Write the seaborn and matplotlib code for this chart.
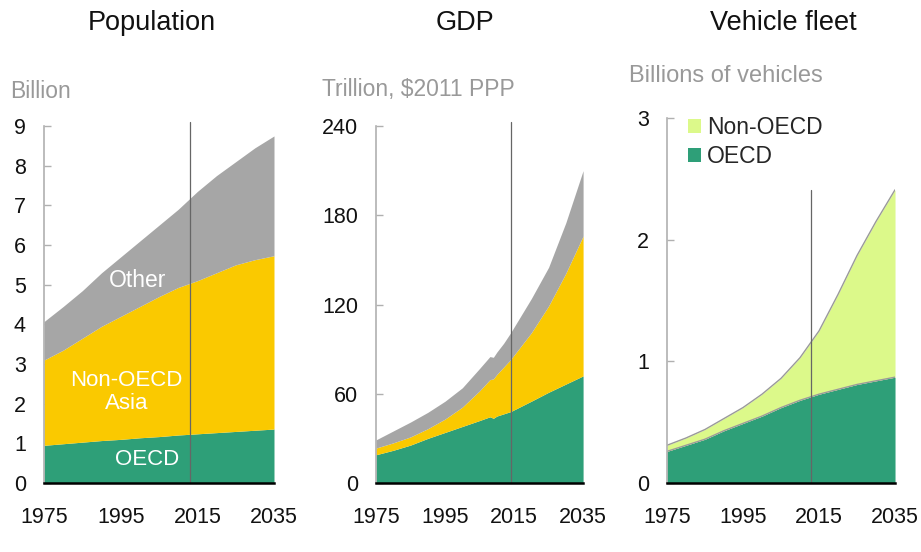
import matplotlib
matplotlib.use('Agg')
import matplotlib.pyplot as plt
from matplotlib.patches import Patch
import seaborn as sns
import numpy as np

# ---- data -----------------------------------------------------------------
pop_years = [1975, 1980, 1985, 1990, 1995, 2000, 2005, 2010, 2015, 2020, 2025, 2030, 2035]
pop_oecd = [0.95, 0.99, 1.03, 1.07, 1.10, 1.14, 1.17, 1.21, 1.24, 1.27, 1.30, 1.33, 1.36]
pop_asia = [2.15, 2.36, 2.62, 2.88, 3.10, 3.31, 3.53, 3.72, 3.86, 4.03, 4.20, 4.30, 4.37]
pop_other = [0.97, 1.10, 1.20, 1.35, 1.50, 1.65, 1.80, 1.97, 2.25, 2.45, 2.60, 2.82, 3.02]

gdp_years = [1975, 1980, 1985, 1990, 1995, 2000, 2005, 2008, 2009, 2010, 2012, 2014, 2020, 2025, 2030, 2035]
gdp_oecd = [19, 22, 25.5, 30, 34, 38, 42, 44.5, 43.5, 45, 46.5, 48, 55, 61, 66.5, 72]
gdp_asia = [4.5, 5, 5.5, 6.5, 9, 13, 20, 25, 26.5, 28, 31.5, 35, 46, 58, 74.5, 94]
gdp_other = [5.5, 8, 10, 11, 12, 13, 15, 15.5, 14.5, 15, 16, 18, 23, 26, 34, 44]

veh_years = [1975, 1980, 1985, 1990, 1995, 2000, 2005, 2010, 2015, 2020, 2025, 2030, 2035]
veh_oecd = [0.26, 0.31, 0.36, 0.43, 0.49, 0.55, 0.62, 0.68, 0.73, 0.77, 0.81, 0.84, 0.87]
veh_non = [0.05, 0.06, 0.08, 0.10, 0.13, 0.18, 0.24, 0.35, 0.52, 0.78, 1.06, 1.31, 1.54]

x_ticks = [1975, 1995, 2015, 2035]

GREEN = '#2e9f78'
YELLOW = '#fac900'
GREY = '#a6a6a6'
LIME = '#dcf98a'

sns.set_theme(style='white')
plt.rcParams['font.family'] = ['Liberation Sans', 'DejaVu Sans']

fig = plt.figure(figsize=(9.21, 5.52), dpi=100)
ax1 = fig.add_axes([0.0478, 0.125, 0.2497, 0.6467])
ax2 = fig.add_axes([0.4083, 0.125, 0.2248, 0.6467])
ax3 = fig.add_axes([0.7242, 0.125, 0.2476, 0.6612])


def stack(ax, years, series, colors):
    base = np.zeros(len(years))
    for vals, c in zip(series, colors):
        top = base + np.array(vals)
        ax.fill_between(years, base, top, color=c, linewidth=0)
        base = top
    return base


def style_axis(ax, ymax, yticks):
    ax.set_xlim(1975, 2035)
    ax.set_ylim(0, ymax)
    ax.set_xticks(x_ticks)
    ax.set_yticks(yticks)
    sns.despine(ax=ax, top=True, right=True)
    ax.spines['left'].set_color('#b0b0b0')
    ax.spines['left'].set_linewidth(1.2)
    ax.spines['bottom'].set_color('black')
    ax.spines['bottom'].set_linewidth(1.8)
    ax.spines['bottom'].set_zorder(5)
    ax.tick_params(axis='y', direction='in', length=5, width=1, color='#b0b0b0',
                   labelsize=15.5, pad=13, left=True)
    ax.tick_params(axis='x', length=0, labelsize=15.5, pad=17)
    for lab in ax.get_xticklabels() + ax.get_yticklabels():
        lab.set_color('#111111')


# Population
stack(ax1, pop_years, [pop_oecd, pop_asia, pop_other], [GREEN, YELLOW, GREY])
style_axis(ax1, 9, range(0, 10))
ax1.plot([2013, 2013], [0, 9.1], color='#666666', lw=0.9, clip_on=False, zorder=4)
ax1.text(1999.5, 5.1, 'Other', color='white', fontsize=16.5, ha='center', va='center')
ax1.text(1996.5, 2.3, 'Non-OECD\nAsia', color='white', fontsize=16, ha='center', va='center',
         linespacing=1.1)
ax1.text(2002, 0.58, 'OECD', color='white', fontsize=16, ha='center', va='center')

# GDP
stack(ax2, gdp_years, [gdp_oecd, gdp_asia, gdp_other], [GREEN, YELLOW, GREY])
style_axis(ax2, 240, range(0, 241, 60))
ax2.plot([2014, 2014], [0, 243], color='#666666', lw=0.9, clip_on=False, zorder=4)

# Vehicle fleet
total = stack(ax3, veh_years, [veh_oecd, veh_non], [GREEN, LIME])
sns.lineplot(x=veh_years, y=veh_oecd, ax=ax3, color='#9a9a9a', lw=1)
sns.lineplot(x=veh_years, y=total, ax=ax3, color='#9a9a9a', lw=1)
style_axis(ax3, 3, range(0, 4))
ax3.plot([2013, 2013], [0, total[-1]], color='#666666', lw=0.9, zorder=4)
handles = [Patch(facecolor=LIME, edgecolor='none', label='Non-OECD'),
           Patch(facecolor=GREEN, edgecolor='none', label='OECD')]
ax3.legend(handles=handles, loc='upper left', bbox_to_anchor=(0.05, 1.03), frameon=False,
           fontsize=16.5, handlelength=0.6, handleheight=0.6, handletextpad=0.25,
           labelspacing=0.25, borderaxespad=0)

# titles and unit labels
fig.text(0.165, 0.958, 'Population', fontsize=19.5, ha='center', va='center', color='#111111')
fig.text(0.505, 0.958, 'GDP', fontsize=19.5, ha='center', va='center', color='#111111')
fig.text(0.850, 0.958, 'Vehicle fleet', fontsize=19.5, ha='center', va='center', color='#111111')
fig.text(0.011, 0.835, 'Billion', fontsize=16.5, ha='left', va='center', color='#999999')
fig.text(0.3496, 0.837, 'Trillion, $2011 PPP', fontsize=16.5, ha='left', va='center', color='#999999')
fig.text(0.683, 0.862, 'Billions of vehicles', fontsize=17, ha='left', va='center', color='#999999')

fig.savefig('out.png', dpi=100, facecolor='white')
plt.close(fig)
